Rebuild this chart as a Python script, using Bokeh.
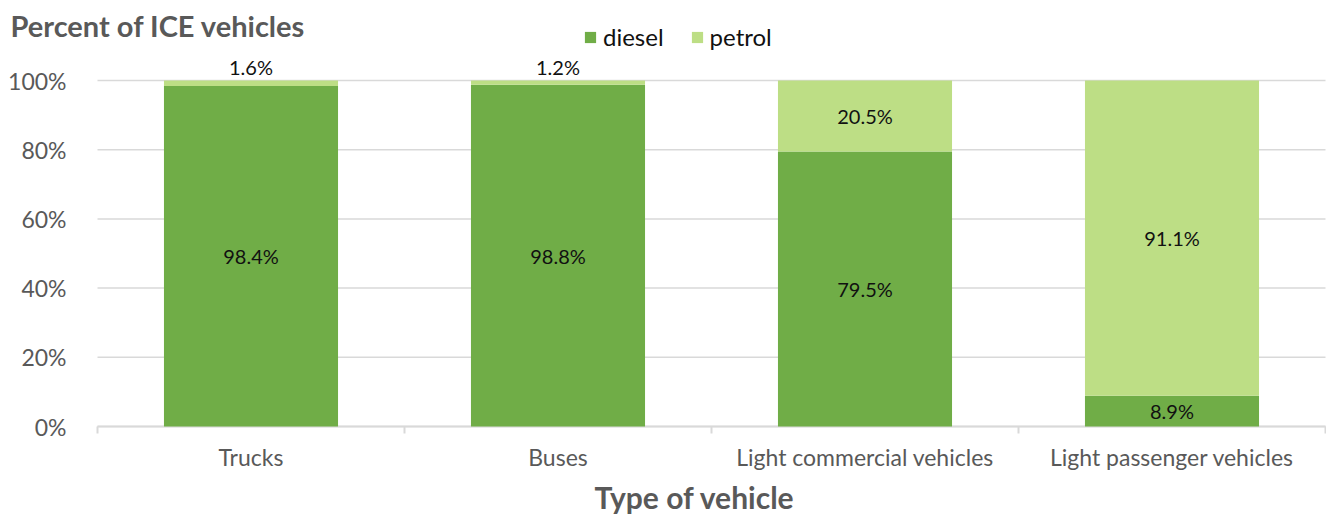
from bokeh.plotting import figure
from bokeh.models import (Range1d, FixedTicker, Legend, LegendItem, Title, Label,
                          ColumnDataSource, LabelSet)
from bokeh.core.properties import value
from bokeh.embed import file_html
from bokeh.resources import INLINE

categories = ["Trucks", "Buses", "Light commercial vehicles", "Light passenger vehicles"]
diesel = [98.4, 98.8, 79.5, 8.9]
petrol = [1.6, 1.2, 20.5, 91.1]
y_ticks = [0, 20, 40, 60, 80, 100]
y_tick_labels = ["0%", "20%", "40%", "60%", "80%", "100%"]

DIESEL_C = "#70AD47"
PETROL_C = "#BDDE85"
GRID_C = "#d9d9d9"
FONT = "Lato"
GREY = "#595959"

W, H = 1326, 519
ZERO = 426        # px of 0%
Y100 = 80         # px of 100%
FRAME_BOTTOM = 438
LEFT = 97         # px where category axis starts
RIGHT = 1325      # px where category axis ends
n = len(categories)
unit = (RIGHT - LEFT) / n
ppu = ZERO - Y100               # px per 100%
x_start = -LEFT / unit
x_end = n + (W - RIGHT) / unit
y_start = -(FRAME_BOTTOM - ZERO) / ppu
y_end = 1 + Y100 / ppu

xs = [i + 0.5 for i in range(n)]
src = ColumnDataSource(dict(x=xs, diesel=[v / 100 for v in diesel],
                            petrol=[v / 100 for v in petrol]))

p = figure(width=W, height=H, output_backend="svg", toolbar_location=None,
           x_range=Range1d(x_start, x_end), y_range=Range1d(y_start, y_end),
           y_axis_location=None,
           min_border_left=0, min_border_right=0, min_border_top=0,
           min_border_bottom=H - FRAME_BOTTOM)
p.outline_line_color = None
p.xgrid.grid_line_color = None
p.ygrid.grid_line_color = None

# horizontal gridlines (0% .. 100%) across the category span
gy = [t / 100 for t in y_ticks]
p.segment(x0=[0] * len(gy), x1=[n] * len(gy), y0=gy, y1=gy,
          line_color=GRID_C, line_width=1.5)
# baseline and category separator ticks
p.segment(x0=[0], x1=[n], y0=[0], y1=[0], line_color=GRID_C, line_width=2)
bounds = list(range(n + 1))
p.segment(x0=bounds, x1=bounds, y0=[0] * len(bounds), y1=[-7 / ppu] * len(bounds),
          line_color=GRID_C, line_width=2)

r = p.vbar_stack(["diesel", "petrol"], x="x", width=0.567, source=src,
                 color=[DIESEL_C, PETROL_C], line_color=None)

# y tick labels
p.text(x=[0] * len(gy), y=gy, text=y_tick_labels, x_offset=-31,
       text_align="right", text_baseline="middle",
       text_font=value(FONT), text_font_size="23px", text_color=GREY)

# x axis (category labels)
xa = p.xaxis[0]
xa.ticker = FixedTicker(ticks=xs)
xa.major_label_overrides = {x: c for x, c in zip(xs, categories)}
xa.major_tick_line_color = None
xa.minor_tick_line_color = None
xa.major_tick_out = 0
xa.minor_tick_out = 0
xa.axis_line_color = None
xa.major_label_text_font = FONT
xa.major_label_text_font_size = "23px"
xa.major_label_text_color = GREY
xa.major_label_standoff = 4

p.add_layout(Title(text="Type of vehicle", align="left", offset=594,
                   text_font=FONT, text_font_size="30px", text_font_style="bold",
                   text_color=GREY, standoff=7), "below")

# data labels
lx, ly, lt, loff = [], [], [], []
for x, dv, pv in zip(xs, diesel, petrol):
    lx.append(x); ly.append(dv / 200); lt.append(f"{dv:.1f}%"); loff.append(0)
    if pv < 5:
        lx.append(x); ly.append((dv + pv) / 100); lt.append(f"{pv:.1f}%"); loff.append(14)
    else:
        lx.append(x); ly.append((dv + pv / 2) / 100); lt.append(f"{pv:.1f}%"); loff.append(0)
lsrc = ColumnDataSource(dict(x=lx, y=ly, t=lt, off=loff))
p.add_layout(LabelSet(x="x", y="y", text="t", y_offset="off", source=lsrc,
                      text_align="center", text_baseline="middle",
                      text_font=value(FONT), text_font_size="20px", text_color="#111111"))

# chart title
p.add_layout(Label(x=10, y=FRAME_BOTTOM - 25, x_units="screen", y_units="screen",
                   text="Percent of ICE vehicles", text_font=FONT, text_font_size="29px",
                   text_font_style="bold", text_color=GREY, text_baseline="middle"))

# legend
legend = Legend(items=[LegendItem(label="diesel", renderers=[r[0]]),
                       LegendItem(label="petrol", renderers=[r[1]])],
                orientation="horizontal", location=(583, FRAME_BOTTOM - 51),
                glyph_width=14, glyph_height=14, label_height=20,
                label_standoff=6, spacing=26, padding=0, margin=0,
                border_line_color=None, background_fill_alpha=0,
                label_text_font=FONT, label_text_font_size="24px", label_text_color="#111111")
p.add_layout(legend, "center")

open("out.html", "w").write(file_html(p, INLINE))
